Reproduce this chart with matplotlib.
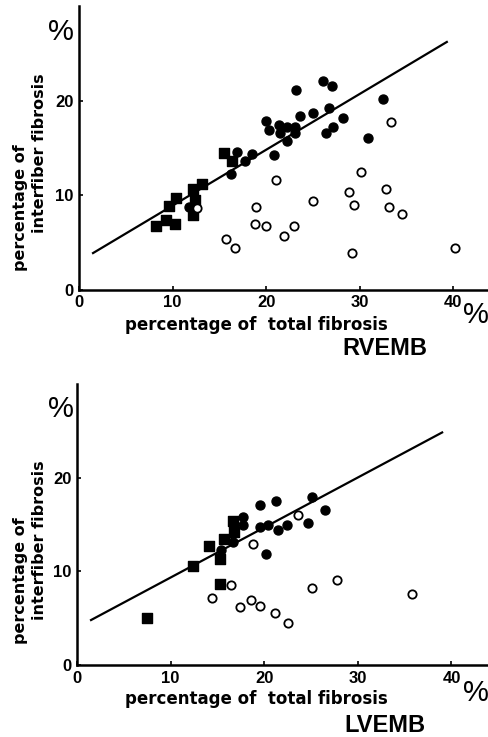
import matplotlib
matplotlib.use("Agg")
import numpy as np
import matplotlib.pyplot as plt

# right ventricle biopsies (RVEMB)
rv_sq_x = [8.2, 9.3, 10.3, 9.6, 10.4, 12.2, 13.1, 12.4, 12.2, 15.5, 16.3]
rv_sq_y = [6.7, 7.4, 7.0, 8.9, 9.7, 10.7, 11.2, 9.5, 7.9, 14.5, 13.6]
rv_fill_x = [11.7, 16.2, 16.9, 17.7, 18.5, 20.8, 20.0, 20.3, 21.4, 21.5, 22.2, 23.1, 23.1,
             22.2, 23.6, 25.0, 26.7, 23.2, 26.1, 27.0, 28.2, 27.1, 26.4, 30.9, 32.5]
rv_fill_y = [8.8, 12.2, 14.6, 13.65, 14.4, 14.25, 17.9, 16.9, 17.4, 16.55, 17.2, 17.25, 16.55,
             15.7, 18.4, 18.7, 19.2, 21.1, 22.1, 21.6, 18.2, 17.25, 16.6, 16.0, 20.2]
rv_open_x = [12.6, 15.75, 16.65, 18.9, 18.8, 20.0, 21.1, 21.9, 23.0, 25.0, 28.8, 29.2, 29.4,
             30.1, 32.8, 33.1, 33.3, 34.5, 40.2]
rv_open_y = [8.6, 5.4, 4.4, 8.7, 7.0, 6.75, 11.6, 5.7, 6.75, 9.4, 10.3, 3.85, 9.0,
             12.5, 10.65, 8.8, 17.75, 8.0, 4.45]
rv_fit = (2.99, 0.591)   # intercept, slope
rv_fit_range = (1.5, 39.3)

# left ventricle biopsies (LVEMB)
lv_sq_x = [7.45, 12.35, 14.05, 15.3, 15.3, 15.7, 16.8, 16.7]
lv_sq_y = [5.0, 10.6, 12.75, 11.3, 8.6, 13.5, 14.2, 15.4]
lv_fill_x = [15.4, 16.7, 17.7, 17.75, 19.5, 21.3, 19.5, 20.4, 21.5, 22.4, 24.7, 25.1, 26.5, 20.2]
lv_fill_y = [12.25, 13.1, 15.8, 14.9, 17.05, 17.5, 14.7, 15.0, 14.45, 15.0, 15.2, 17.9, 16.5, 11.8]
lv_open_x = [23.6, 18.75, 16.5, 14.4, 17.4, 18.6, 19.6, 21.2, 22.5, 25.1, 27.75, 35.8]
lv_open_y = [16.05, 12.9, 8.5, 7.15, 6.15, 6.9, 6.3, 5.6, 4.5, 8.2, 9.1, 7.6]
lv_fit = (4.0, 0.534)
lv_fit_range = (1.5, 39.0)

x_ticks = [0, 10, 20, 30, 40]
y_ticks = [0, 10, 20]

tick_font = ['Liberation Sans Narrow', 'Liberation Sans']
label_font = ['DejaVu Sans']


def draw_panel(fig, rect, xmax, sq, fill, opn, fit, fit_range):
    ax = fig.add_axes(rect)
    ax.set_xlim(0, xmax)
    ax.set_ylim(0, 30)
    for side in ('top', 'right'):
        ax.spines[side].set_visible(False)
    for side in ('left', 'bottom'):
        ax.spines[side].set_linewidth(1.8)

    ax.scatter(sq[0], sq[1], marker='s', s=42, color='black', zorder=3)
    ax.scatter(fill[0], fill[1], marker='o', s=42, color='black', zorder=3)
    ax.scatter(opn[0], opn[1], marker='o', s=36, facecolor='white',
               edgecolor='black', linewidth=1.3, zorder=4)

    xs = np.array(fit_range)
    ax.plot(xs, fit[0] + fit[1] * xs, color='black', lw=1.6, zorder=2)

    ax.set_xticks(x_ticks)
    ax.set_yticks(y_ticks)
    ax.tick_params(direction='in', length=3, width=1.2, pad=4)
    for lab in ax.get_xticklabels() + ax.get_yticklabels():
        lab.set_fontfamily(tick_font)
        lab.set_fontweight('bold')
        lab.set_fontsize(12)
    return ax


fig = plt.figure(figsize=(4.88, 7.37), dpi=100)

draw_panel(fig, [79 / 488, 1 - 289.7 / 737, 409 / 488, 283.5 / 737], 43.7,
           (rv_sq_x, rv_sq_y), (rv_fill_x, rv_fill_y), (rv_open_x, rv_open_y),
           rv_fit, rv_fit_range)
draw_panel(fig, [77 / 488, 1 - 665 / 737, 411 / 488, 281 / 737], 43.9,
           (lv_sq_x, lv_sq_y), (lv_fill_x, lv_fill_y), (lv_open_x, lv_open_y),
           lv_fit, lv_fit_range)

# axis titles, units and panel names
for y1, y2, yx, ypc, ypr, name_y, name in [
        (208, 153.5, 325, 32, 315, 349, 'RVEMB'),
        (581, 540, 699, 409, 693, 726, 'LVEMB')]:
    fig.text(21 / 488, 1 - y1 / 737, 'percentage of', rotation=90, ha='center',
             va='center', fontsize=11.5, fontweight='bold', family=label_font)
    fig.text(40 / 488, 1 - y2 / 737, 'interfiber fibrosis', rotation=90, ha='center',
             va='center', fontsize=11.5, fontweight='bold', family=label_font)
    fig.text(256 / 488, 1 - yx / 737, 'percentage of  total fibrosis', ha='center',
             va='center', fontsize=12, fontweight='bold', family=label_font)
    fig.text(61 / 488, 1 - ypc / 737, '%', ha='center', va='center', fontsize=21,
             family=tick_font)
    fig.text(476 / 488, 1 - ypr / 737, '%', ha='center', va='center', fontsize=21,
             family=tick_font)
    fig.text(385 / 488, 1 - name_y / 737, name, ha='center', va='center', fontsize=17,
             fontweight='bold', family=['Liberation Sans'])

fig.savefig('out.png', dpi=100)
